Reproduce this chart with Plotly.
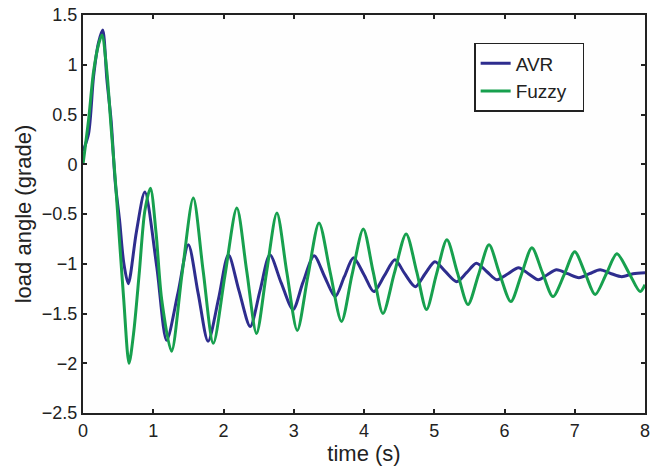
import plotly.graph_objects as go

avr_t = [0, 0.08, 0.15, 0.22, 0.28, 0.34, 0.40, 0.46, 0.52, 0.58, 0.645, 0.76, 0.88,
         1.05, 1.19, 1.35, 1.5, 1.64, 1.78, 1.93, 2.07, 2.22, 2.38, 2.52, 2.66, 2.82,
         2.99, 3.13, 3.29, 3.44, 3.59, 3.72, 3.85, 4.0, 4.14, 4.29, 4.44, 4.58, 4.73,
         4.87, 5.01, 5.16, 5.32, 5.46, 5.60, 5.75, 5.89, 6.05, 6.20, 6.34, 6.48, 6.61,
         6.74, 6.90, 7.06, 7.21, 7.36, 7.52, 7.67, 7.83, 8.0]
avr_v = [0.13, 0.31, 0.88, 1.22, 1.35, 0.85, 0.44, -0.19, -0.56, -0.99, -1.2, -0.68, -0.28,
         -1.03, -1.77, -1.3, -0.81, -1.3, -1.78, -1.35, -0.91, -1.27, -1.63, -1.27, -0.91, -1.19,
         -1.46, -1.19, -0.92, -1.13, -1.33, -1.13, -0.94, -1.11, -1.28, -1.12, -0.96, -1.10, -1.23,
         -1.10, -0.98, -1.08, -1.18, -1.09, -0.995, -1.08, -1.16, -1.10, -1.04, -1.10, -1.16, -1.11,
         -1.06, -1.10, -1.14, -1.10, -1.06, -1.10, -1.13, -1.10, -1.09]

fuzzy_t = [0, 0.08, 0.15, 0.22, 0.27, 0.34, 0.40, 0.46, 0.52, 0.58, 0.655, 0.72, 0.80, 0.88,
           0.96, 1.04, 1.12, 1.26, 1.41, 1.57, 1.71, 1.855, 2.02, 2.19, 2.33, 2.47, 2.61,
           2.76, 2.9, 3.05, 3.2, 3.36, 3.52, 3.68, 3.83, 3.99, 4.13, 4.27, 4.43, 4.60, 4.75,
           4.89, 5.03, 5.18, 5.33, 5.48, 5.63, 5.78, 5.93, 6.09, 6.24, 6.39, 6.54, 6.69, 6.85,
           7.00, 7.15, 7.29, 7.45, 7.60, 7.77, 7.93, 8.0]
fuzzy_v = [0.0, 0.45, 0.93, 1.2, 1.30, 0.93, 0.37, -0.16, -0.77, -1.36, -2.0, -1.70, -1.10, -0.47,
           -0.24, -0.69, -1.36, -1.88, -1.1, -0.34, -1.07, -1.80, -1.12, -0.44, -1.07, -1.70, -1.10,
           -0.49, -1.08, -1.67, -1.13, -0.59, -1.09, -1.58, -1.11, -0.65, -1.08, -1.50, -1.10, -0.70, -1.08,
           -1.46, -1.11, -0.76, -1.09, -1.41, -1.11, -0.81, -1.10, -1.38, -1.11, -0.84, -1.09, -1.33, -1.11,
           -0.88, -1.10, -1.31, -1.10, -0.90, -1.09, -1.28, -1.21]

x_ticks = [0, 1, 2, 3, 4, 5, 6, 7, 8]
x_tick_text = ["0", "1", "2", "3", "4", "5", "6", "7", "8"]
y_ticks = [1.5, 1, 0.5, 0, -0.5, -1, -1.5, -2, -2.5]
y_tick_text = ["1.5", "1", "0.5", "0", "\u22120.5", "\u22121", "\u22121.5", "\u22122", "\u22122.5"]

fig = go.Figure()
fig.add_trace(go.Scatter(x=avr_t, y=avr_v, mode="lines", name="AVR",
                         line=dict(color="#2e2d8e", width=3, shape="spline", smoothing=0.8)))
fig.add_trace(go.Scatter(x=fuzzy_t, y=fuzzy_v, mode="lines", name="Fuzzy\u00a0\u00a0",
                         line=dict(color="#17a04e", width=3, shape="spline", smoothing=0.8)))

font = dict(family="Liberation Sans, Arial, sans-serif", size=18, color="#222222")
fig.update_layout(
    width=651, height=469,
    margin=dict(l=83, r=6, t=15, b=56),
    paper_bgcolor="white", plot_bgcolor="#fefefe",
    font=font,
    showlegend=True,
    legend=dict(x=0.696, y=0.93, xanchor="left", yanchor="top",
                bordercolor="#222222", borderwidth=1.5, bgcolor="white",
                font=dict(family="Liberation Sans, Arial, sans-serif", size=19, color="#222222"),
                tracegroupgap=0, itemwidth=30),
)
fig.update_xaxes(range=[0, 8], tickvals=x_ticks, ticktext=x_tick_text, ticks="inside",
                 ticklen=4, tickwidth=2, automargin=False, ticklabeloverflow="allow",
                 tickcolor="#222222", showline=True, linecolor="#222222", linewidth=2,
                 mirror="ticks", showgrid=False, zeroline=False,
                 title=dict(text="time (s)", standoff=0), tickfont=font)
fig.update_yaxes(range=[-2.5, 1.5], tickvals=y_ticks, ticktext=y_tick_text, ticks="inside",
                 ticklen=4, tickwidth=2, automargin=False, ticklabeloverflow="allow",
                 tickcolor="#222222", showline=True,
                 linecolor="#222222", linewidth=2, mirror="ticks", showgrid=False,
                 zeroline=False, title=dict(text="load angle (grade)", standoff=4), tickfont=font)

# remove the default 8px page margin so the figure sits at the window's top-left corner
fig.write_html("out.html", config={"displayModeBar": False},
               post_script="document.body.style.margin='0';")
